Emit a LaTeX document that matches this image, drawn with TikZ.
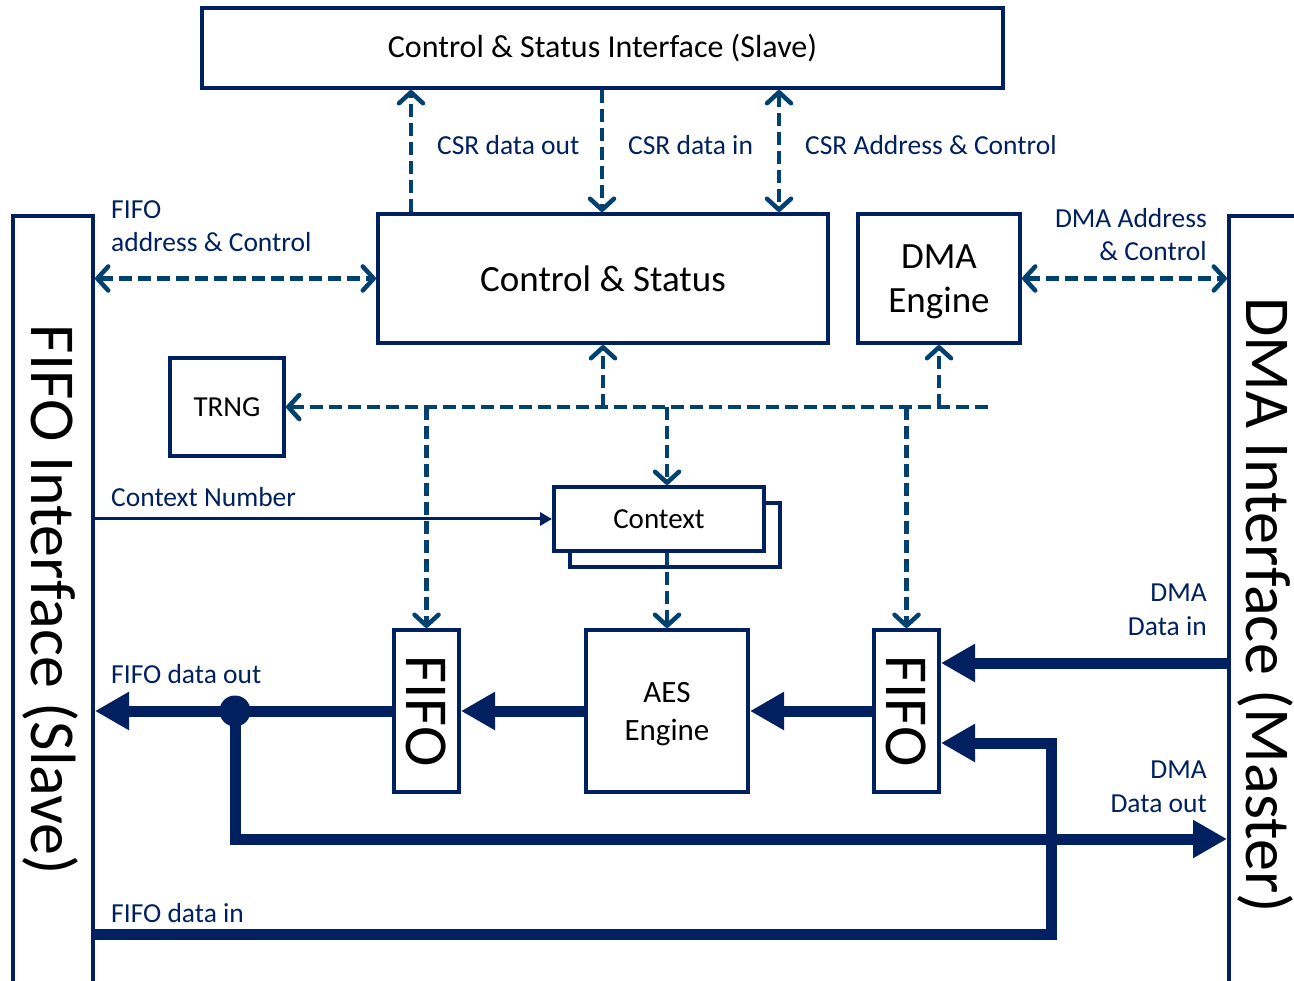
\documentclass[tikz,border=0pt]{standalone}
\usepackage{fontspec}
\setmainfont{Carlito}
\usetikzlibrary{arrows.meta}
\definecolor{navy}{HTML}{002060}
\definecolor{dashblue}{HTML}{00416F}

\begin{document}
\begin{tikzpicture}[x=1pt,y=-1pt,
  box/.style={draw=navy, line width=4pt, fill=white, inner sep=0pt, text=black, align=center},
  vtext/.style={rotate=-90, inner sep=0pt, text=black},
  lbl/.style={text=navy, inner sep=0pt, font=\fontsize{27.5}{33.5}\selectfont},
  ctl/.style={draw=dashblue, line width=4.5pt, dash pattern=on 13pt off 6pt},
  barb/.tip={Straight Barb[length=11pt,width=24pt,round]},
  ctlarrow/.style={ctl, -barb},
  ctlback/.style={ctl, barb-},
  ctlboth/.style={ctl, barb-barb},
  bus/.style={draw=navy, line width=11pt},
  busarrow/.style={bus, -{Triangle[length=34pt,width=36pt]}},
]
\useasboundingbox (0,0) rectangle (1294,981);

% ---- blocks ----
\node[box, minimum width=801pt, minimum height=80pt, font=\fontsize{32}{38}\selectfont] (csi) at (602.5,48) {Control \& Status Interface (Slave)};
\node[box, minimum width=450pt, minimum height=129pt, font=\fontsize{37}{44}\selectfont] (cs) at (603,278.5) {Control \& Status};
\node[box, minimum width=162pt, minimum height=129pt, text depth=0pt, font=\fontsize{37}{44}\selectfont] (dma) at (939,278.5) {DMA\\Engine};
\node[box, minimum width=114pt, minimum height=98pt, font=\fontsize{29}{35}\selectfont] (trng) at (227,407) {TRNG};
\node[box, minimum width=210pt, minimum height=64pt] (ctxback) at (675,535) {};
\node[box, minimum width=210pt, minimum height=64pt, font=\fontsize{29}{35}\selectfont] (ctx) at (659,519) {Context};
\node[box, minimum width=162pt, minimum height=162pt, text depth=0pt, font=\fontsize{31}{38}\selectfont] (aes) at (667,711) {AES\\Engine};
\node[box, minimum width=65pt, minimum height=162pt] (fifoL) at (426.5,711) {};
\node[vtext, font=\fontsize{61}{61}\selectfont] (fifoLt) at (fifoL) {FIFO};
\node[box, minimum width=65pt, minimum height=162pt] (fifoR) at (906.5,711) {};
\node[vtext, font=\fontsize{61}{61}\selectfont] (fifoRt) at (fifoR) {FIFO};

% ---- interfaces (running off the page) ----
\node[box, minimum width=80pt, minimum height=800pt, anchor=north west] (fifoif) at (11,214) {};
\node[vtext, font=\fontsize{64}{64}\selectfont] (fifoift) at (50,600) {FIFO Interface (Slave)};
\node[box, minimum width=110pt, minimum height=800pt, anchor=north west] (dmaif) at (1227,214) {};
\node[vtext, font=\fontsize{64}{64}\selectfont] (dmaift) at (1265,605) {DMA Interface (Master)};

% ---- reference points ----
\coordinate (xout) at (411,0);
\coordinate (xin) at (602,0);
\coordinate (xac) at (779,0);
\coordinate (busend) at (988,407);
\coordinate (jn) at (235,711);
\coordinate (lowbend) at (235,839);
\coordinate (din) at (1100,663);
\coordinate (fin) at (1051,934);
\coordinate (fback) at (1051,743);

% ---- control paths (dashed) ----
\draw[ctlarrow] (cs.north -| xout) -- (csi.south -| xout);
\draw[ctlarrow] (csi.south -| xin) -- (cs.north -| xin);
\draw[ctlboth] (csi.south -| xac) -- (cs.north -| xac);
\draw[ctlboth] (fifoif.east |- cs.west) -- (cs.west);
\draw[ctlboth] (dma.east) -- (dmaif.west |- dma.east);
\draw[ctlback] (trng.east) -- (busend);
\draw[ctlarrow] (cs.south |- busend) -- (cs.south);
\draw[ctlarrow] (dma.south |- busend) -- (dma.south);
\draw[ctlarrow] (fifoL.north |- busend) -- (fifoL.north);
\draw[ctlarrow] (aes.north |- busend) -- (ctx.north -| aes.north);
\draw[ctlarrow] (fifoR.north |- busend) -- (fifoR.north);
\draw[ctlarrow] (ctx.south -| aes.north) -- (aes.north);

% ---- data paths ----
\draw[busarrow] (fifoL.west) -- (fifoif.east |- fifoL.west);
\draw[busarrow] (aes.west) -- (fifoL.east);
\draw[busarrow] (fifoR.west) -- (aes.east);
\draw[busarrow] (dmaif.west |- din) -- (fifoR.east |- din);
\draw[busarrow] (jn) -- (lowbend) -- (dmaif.west |- lowbend);
\draw[busarrow] (fifoif.east |- fin) -- (fin) -- (fback) -- (fifoR.east |- fback);
\fill[navy] (jn) circle[radius=15.5];
\draw[navy, line width=3pt, -{Triangle[length=12pt,width=13pt]}] (fifoif.east |- ctx.west) -- (ctx.west);

% ---- labels (two-line ones are placed by their last baseline) ----
\node[lbl, anchor=base west] (l1) at (437,155) {CSR data out};
\node[lbl, anchor=base west] (l2) at (628,155) {CSR data in};
\node[lbl, anchor=base west] (l3) at (805,155) {CSR Address \& Control};
\node[lbl, anchor=base west, align=left] (l4) at (111,252) {FIFO\\address \& Control};
\node[lbl, anchor=base east, align=right] (l5) at (1207,261) {DMA Address\\\& Control};
\node[lbl, anchor=base west] (l6) at (111,507) {Context Number};
\node[lbl, anchor=base west] (l7) at (111,683) {FIFO data out};
\node[lbl, anchor=base east, align=right] (l8) at (1207,635) {DMA\\Data in};
\node[lbl, anchor=base east, align=right] (l9) at (1207,812) {DMA\\Data out};
\node[lbl, anchor=base west] (l10) at (111,922) {FIFO data in};
\end{tikzpicture}
\end{document}
